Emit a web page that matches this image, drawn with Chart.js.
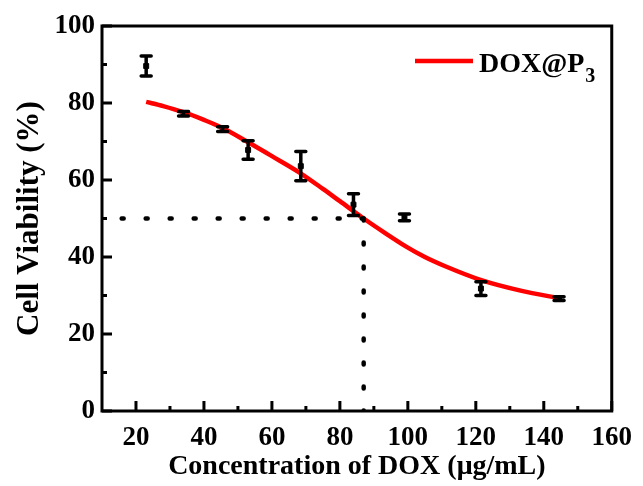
<!DOCTYPE html>
<html><head><meta charset="utf-8">
<script src="https://cdn.jsdelivr.net/npm/chart.js@4.4.0/dist/chart.umd.min.js"></script>
<style>html,body{margin:0;padding:0;background:#fff;}#wrap{width:643px;height:486px;}</style>
</head><body><div id="wrap"><canvas id="c" width="643" height="486"></canvas></div>
<script>
// measured data
const concentrations = [23, 34, 45.5, 53, 68.5, 84, 99, 121.5, 144.5];
const viability      = [89.6, 77.2, 73.2, 67.8, 63.6, 53.6, 50.3, 31.8, 29.2];
const viabilityError = [2.6, 0.6, 0.6, 2.4, 3.8, 2.8, 0.9, 1.8, 0.5];
// fitted curve
const fitConc = [23, 28, 34, 40, 45.5, 53, 60, 68, 75, 80, 87, 93, 99.5, 105, 111, 121.6, 133.5, 144.6];
const fitViab = [80.3, 79.2, 77.6, 75.6, 73.5, 69.8, 66.2, 62.0, 57.7, 54.5, 50.0, 46.4, 42.7, 40.0, 37.6, 34.0, 31.2, 29.3];
// IC50 guide lines
const ic50Conc = 87;
const halfViability = 50;
const xAxisStart = 10;
// ticks
const xTicks = [20, 40, 60, 80, 100, 120, 140, 160];
const xMinorTicks = [30, 50, 70, 90, 110, 130, 150];
const yTicks = [0, 20, 40, 60, 80, 100];
const yMinorTicks = [10, 30, 50, 70, 90];
const seriesName = 'DOX@P';
const seriesSub = '3';

const serif = "'Liberation Serif', 'Times New Roman', serif";

const framePlugin = {
  id: 'frame',
  afterDatasetsDraw(chart) {
    const {ctx, chartArea: a, scales: {x, y}} = chart;
    ctx.save();
    ctx.strokeStyle = '#000';
    ctx.lineWidth = 3;
    ctx.lineCap = 'square';
    ctx.strokeRect(a.left, a.top, a.right - a.left, a.bottom - a.top);
    ctx.lineCap = 'butt';
    ctx.beginPath();
    xTicks.forEach(v => { const p = x.getPixelForValue(v); ctx.moveTo(p, a.bottom); ctx.lineTo(p, a.bottom - 10); });
    xMinorTicks.forEach(v => { const p = x.getPixelForValue(v); ctx.moveTo(p, a.bottom); ctx.lineTo(p, a.bottom - 5); });
    yTicks.forEach(v => { const p = y.getPixelForValue(v); ctx.moveTo(a.left, p); ctx.lineTo(a.left + 10, p); });
    yMinorTicks.forEach(v => { const p = y.getPixelForValue(v); ctx.moveTo(a.left, p); ctx.lineTo(a.left + 5, p); });
    ctx.stroke();
    // error bars
    ctx.lineWidth = 3.5;
    ctx.lineCap = 'round';
    concentrations.forEach((c, i) => {
      const px = x.getPixelForValue(c);
      const t = y.getPixelForValue(viability[i] + viabilityError[i]);
      const b = y.getPixelForValue(viability[i] - viabilityError[i]);
      ctx.beginPath();
      ctx.moveTo(px, t); ctx.lineTo(px, b);
      ctx.moveTo(px - 5, t); ctx.lineTo(px + 5, t);
      ctx.moveTo(px - 5, b); ctx.lineTo(px + 5, b);
      ctx.stroke();
    });
    // legend
    const lx = a.left + 313, ly = a.top + 35;
    ctx.strokeStyle = '#ff0000';
    ctx.lineWidth = 4.5;
    ctx.lineCap = 'butt';
    ctx.beginPath(); ctx.moveTo(lx, ly); ctx.lineTo(lx + 58, ly); ctx.stroke();
    ctx.fillStyle = '#000';
    ctx.textBaseline = 'alphabetic';
    ctx.textAlign = 'left';
    ctx.font = 'bold 28px ' + serif;
    ctx.fillText(seriesName, lx + 64, ly + 11);
    const w = ctx.measureText(seriesName).width;
    ctx.font = 'bold 20px ' + serif;
    ctx.fillText(seriesSub, lx + 64 + w + 1, ly + 21);
    ctx.restore();
  }
};

const pts = (xs, ys) => xs.map((v, i) => ({x: v, y: ys[i]}));

new Chart(document.getElementById('c'), {
  type: 'scatter',
  data: {
    datasets: [
      {
        label: 'IC50 horizontal', type: 'line',
        data: [{x: ic50Conc, y: halfViability}, {x: xAxisStart, y: halfViability}],
        borderColor: '#000', borderWidth: 4.5, borderDash: [2, 22], borderCapStyle: 'round',
        pointRadius: 0, fill: false
      },
      {
        label: 'IC50 vertical', type: 'line',
        data: [{x: ic50Conc, y: halfViability}, {x: ic50Conc, y: 0}],
        borderColor: '#000', borderWidth: 4.5, borderDash: [2, 22], borderCapStyle: 'round',
        pointRadius: 0, fill: false
      },
      {
        label: seriesName + seriesSub, type: 'line',
        data: pts(fitConc, fitViab),
        borderColor: '#ff0000', borderWidth: 4.5, pointRadius: 0,
        cubicInterpolationMode: 'monotone', fill: false
      },
      {
        label: 'measured', data: pts(concentrations, viability),
        backgroundColor: '#000', borderColor: '#000', pointStyle: 'rect', pointRadius: 3.5
      }
    ]
  },
  options: {
    responsive: false,
    animation: false,
    devicePixelRatio: 1,
    layout: {padding: {left: 0, top: 26, right: 25, bottom: 0}},
    plugins: {legend: {display: false}, tooltip: {enabled: false}},
    scales: {
      x: {
        type: 'linear', min: 10, max: 160,
        afterBuildTicks: s => { s.ticks = xTicks.map(v => ({value: v})); },
        afterFit: s => { s.height = 75; },
        grid: {display: false, drawTicks: false},
        border: {display: false},
        ticks: {color: '#000', padding: 11, font: {family: serif, weight: 'bold', size: 27}},
        title: {display: true, text: 'Concentration of DOX (μg/mL)', color: '#000',
                padding: {top: 0, bottom: 2}, font: {family: serif, weight: 'bold', size: 28}}
      },
      y: {
        min: 0, max: 100,
        afterBuildTicks: s => { s.ticks = yTicks.map(v => ({value: v})); },
        afterFit: s => { s.width = 102; },
        grid: {display: false, drawTicks: false},
        border: {display: false},
        ticks: {color: '#000', padding: 7, font: {family: serif, weight: 'bold', size: 27}},
        title: {display: true, text: 'Cell Viability (%)', color: '#000',
                padding: {top: 11, bottom: 0}, font: {family: serif, weight: 'bold', size: 31}}
      }
    }
  },
  plugins: [framePlugin]
});
</script></body></html>
